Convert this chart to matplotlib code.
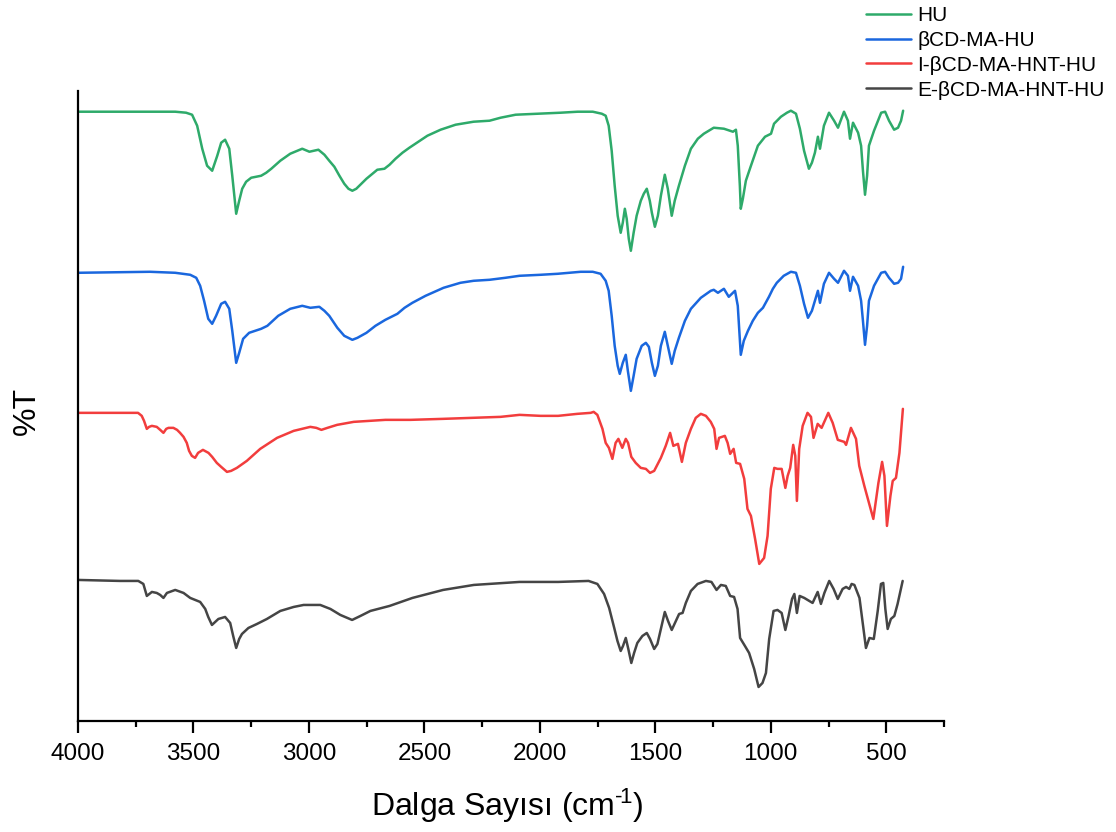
import matplotlib
matplotlib.use("Agg")
import matplotlib.pyplot as plt
from matplotlib.ticker import MultipleLocator

plt.rcParams['font.family'] = ['Liberation Sans', 'DejaVu Sans']
plt.rcParams['mathtext.fontset'] = 'custom'
plt.rcParams['mathtext.rm'] = 'Liberation Sans'
plt.rcParams['mathtext.it'] = 'Liberation Sans'

labels = ["HU", "βCD-MA-HU", "I-βCD-MA-HNT-HU", "E-βCD-MA-HNT-HU"]
colors = ["#2EAA6A", "#1A67DE", "#F23D3D", "#454545"]

# ---- HU (offset transmittance, arbitrary units) ----
hu_wn = [4000, 3688, 3579, 3532, 3506, 3484, 3462, 3441, 3419, 3397, 3380, 3363, 3345, 3332, 3315,
         3302, 3289, 3272, 3250, 3228, 3207, 3185, 3163, 3124, 3081, 3029, 2998, 2959, 2933, 2912,
         2890, 2868, 2847, 2829, 2812, 2795, 2773, 2751, 2730, 2704, 2673, 2651, 2625, 2595, 2565,
         2526, 2487, 2430, 2365, 2287, 2218, 2170, 2105, 2005, 1910, 1836, 1771, 1732, 1715, 1702,
         1689, 1676, 1663, 1650, 1641, 1632, 1624, 1615, 1606, 1594, 1581, 1563, 1550, 1537, 1524,
         1515, 1502, 1489, 1476, 1459, 1446, 1429, 1416, 1398, 1372, 1346, 1316, 1290, 1247, 1203,
         1164, 1151, 1143, 1134, 1130, 1121, 1108, 1086, 1056, 1025, 999, 986, 956, 930, 913,
         891, 874, 856, 835, 822, 809, 796, 787, 770, 748, 726, 709, 683, 666, 657,
         644, 622, 609, 601, 592, 583, 575, 553, 522, 505, 488, 466, 449, 436, 427]
hu_t = [609, 609, 609, 608, 606, 595, 572, 555, 550, 565, 578, 581, 572, 545, 507,
        520, 532, 539, 543, 544, 545, 548, 552, 560, 567, 572, 569, 571, 566, 560,
        554, 545, 537, 532, 530, 532, 537, 542, 546, 551, 552, 556, 562, 568, 573,
        579, 585, 591, 596, 599, 600, 603, 606, 607, 608, 609, 609, 607, 605, 595,
        570, 535, 505, 488, 498, 512, 502, 482, 470, 488, 505, 520, 527, 532, 520,
        508, 494, 505, 525, 546, 532, 505, 520, 535, 555, 572, 582, 587, 593, 592,
        589, 591, 575, 535, 512, 522, 540, 555, 575, 584, 587, 597, 604, 608, 610,
        607, 592, 570, 552, 558, 568, 584, 572, 595, 608, 600, 593, 609, 600, 582,
        598, 588, 575, 550, 526, 545, 575, 590, 608, 609, 600, 591, 593, 600, 610]

# ---- βCD-MA-HU ----
bcd_wn = [4000, 3688, 3579, 3514, 3488, 3471, 3454, 3436, 3419, 3402, 3380, 3363, 3345, 3332, 3315,
          3302, 3285, 3259, 3233, 3207, 3180, 3133, 3081, 3029, 2994, 2955, 2933, 2912, 2877, 2847,
          2812, 2790, 2751, 2712, 2669, 2643, 2617, 2586, 2552, 2495, 2417, 2344, 2287, 2218, 2149,
          2088, 1997, 1923, 1823, 1771, 1737, 1715, 1702, 1689, 1676, 1663, 1654, 1641, 1628, 1619,
          1606, 1594, 1581, 1559, 1541, 1528, 1515, 1502, 1489, 1476, 1459, 1446, 1429, 1416, 1398,
          1372, 1346, 1303, 1260, 1247, 1229, 1203, 1182, 1155, 1143, 1130, 1117, 1099, 1078, 1056,
          1034, 1008, 991, 974, 944, 913, 891, 874, 856, 839, 822, 809, 796, 787, 770,
          748, 726, 709, 683, 666, 657, 644, 622, 609, 601, 592, 583, 575, 553, 522,
          505, 488, 466, 449, 436, 427]
bcd_t = [448, 449, 448, 446, 443, 435, 420, 402, 397, 405, 417, 419, 412, 390, 358,
         368, 382, 388, 390, 392, 395, 405, 412, 415, 413, 414, 410, 405, 393, 385,
         381, 383, 388, 395, 401, 404, 407, 413, 418, 425, 433, 438, 440, 441, 443,
         445, 446, 447, 449, 449, 447, 440, 430, 405, 375, 355, 347, 358, 366, 350,
         330, 345, 362, 375, 378, 374, 358, 345, 355, 375, 389, 375, 357, 370, 383,
         400, 412, 423, 430, 431, 428, 432, 424, 430, 415, 366, 380, 390, 400, 408,
         413, 424, 432, 438, 445, 449, 448, 435, 417, 403, 410, 420, 430, 418, 437,
         448, 442, 438, 450, 445, 430, 444, 435, 420, 400, 376, 395, 420, 435, 448,
         449, 443, 437, 438, 442, 454]

# ---- I-βCD-MA-HNT-HU ----
ibcd_wn = [4000, 3818, 3740, 3724, 3714, 3702, 3692, 3680, 3659, 3644, 3630, 3618, 3608, 3587, 3571,
           3558, 3543, 3529, 3519, 3507, 3493, 3480, 3459, 3435, 3419, 3399, 3380, 3355, 3337, 3312,
           3269, 3211, 3138, 3066, 2994, 2968, 2946, 2920, 2878, 2806, 2734, 2669, 2560, 2419, 2300,
           2170, 2088, 1997, 1921, 1838, 1780, 1767, 1751, 1729, 1715, 1701, 1686, 1672, 1660, 1643,
           1628, 1618, 1604, 1585, 1563, 1541, 1523, 1505, 1476, 1455, 1436, 1422, 1402, 1385, 1368,
           1346, 1325, 1303, 1281, 1260, 1245, 1235, 1224, 1199, 1187, 1176, 1161, 1150, 1133, 1115,
           1101, 1086, 1068, 1050, 1029, 1014, 1000, 985, 971, 953, 937, 927, 916, 903, 894,
           887, 877, 862, 841, 826, 815, 797, 780, 751, 732, 710, 682, 674, 653, 631,
           617, 595, 576, 556, 534, 518, 508, 497, 482, 472, 458, 443, 428]
ibcd_t = [308, 308, 308, 305, 300, 292, 294, 295, 294, 291, 288, 292, 293, 293, 291,
          288, 284, 278, 270, 265, 263, 268, 271, 268, 264, 258, 254, 249, 250, 253,
          260, 272, 283, 290, 294, 293, 291, 293, 296, 299, 300, 301, 301, 302, 303,
          304, 306, 305, 305, 307, 308, 309, 306, 292, 278, 273, 262, 278, 282, 273,
          282, 278, 264, 258, 253, 252, 248, 250, 263, 275, 288, 275, 277, 259, 278,
          292, 303, 307, 305, 299, 292, 272, 283, 285, 278, 267, 272, 258, 257, 242,
          212, 205, 182, 157, 163, 185, 232, 253, 252, 252, 233, 245, 253, 276, 265,
          220, 272, 295, 308, 304, 283, 297, 293, 308, 298, 281, 279, 276, 293, 282,
          255, 235, 219, 202, 238, 259, 245, 195, 225, 240, 243, 268, 312]

# ---- E-βCD-MA-HNT-HU ----
ebcd_wn = [4000, 3818, 3739, 3717, 3702, 3680, 3659, 3644, 3630, 3615, 3579, 3543, 3514, 3471, 3449,
           3436, 3420, 3392, 3363, 3341, 3328, 3315, 3302, 3290, 3262, 3225, 3182, 3124, 3066, 3023,
           2951, 2907, 2864, 2813, 2777, 2734, 2651, 2552, 2419, 2286, 2088, 1921, 1789, 1751, 1722,
           1700, 1678, 1664, 1650, 1640, 1628, 1617, 1604, 1592, 1578, 1556, 1537, 1523, 1505, 1491,
           1476, 1459, 1445, 1429, 1411, 1397, 1382, 1368, 1346, 1317, 1281, 1257, 1235, 1216, 1195,
           1176, 1159, 1144, 1133, 1112, 1094, 1072, 1053, 1036, 1021, 1007, 988, 971, 953, 937,
           923, 908, 898, 887, 875, 855, 819, 797, 783, 768, 747, 728, 710, 689, 674,
           660, 650, 638, 616, 602, 588, 573, 554, 537, 523, 513, 504, 494, 480, 465,
           451, 429]
ebcd_t = [141, 140, 140, 137, 125, 129, 128, 126, 123, 128, 131, 128, 123, 119, 112,
          104, 96, 102, 104, 98, 85, 73, 82, 87, 93, 97, 102, 110, 114, 116,
          116, 112, 106, 101, 105, 110, 115, 123, 131, 136, 139, 139, 140, 137, 127,
          113, 93, 80, 70, 75, 83, 72, 58, 68, 78, 85, 88, 82, 72, 77,
          92, 109, 100, 91, 100, 107, 108, 118, 130, 137, 140, 139, 131, 136, 135,
          125, 124, 112, 83, 75, 68, 52, 34, 38, 48, 82, 110, 111, 108, 91,
          105, 122, 127, 108, 125, 123, 118, 129, 117, 128, 140, 132, 122, 132, 134,
          132, 137, 136, 123, 98, 73, 83, 82, 110, 137, 138, 112, 92, 102, 105,
          117, 140]

series_wn = [hu_wn, bcd_wn, ibcd_wn, ebcd_wn]
series_t = [hu_t, bcd_t, ibcd_t, ebcd_t]

fig = plt.figure(figsize=(11.16, 8.32), dpi=100)
ax = fig.add_axes([78 / 1116, 1 - 721 / 832, (944 - 78) / 1116, (721 - 90.7) / 832])

for wn, t, lab, c in zip(series_wn, series_t, labels, colors):
    ax.plot(wn, t, color=c, lw=1.8, label=lab, solid_joinstyle='round', solid_capstyle='round')

ax.set_xlim(4000, 250)
ax.set_ylim(0, 630)
ax.xaxis.set_major_locator(MultipleLocator(500))
ax.xaxis.set_minor_locator(MultipleLocator(250))
ax.set_xticks([4000, 3500, 3000, 2500, 2000, 1500, 1000, 500])
ax.set_yticks([])
for s in ['top', 'right']:
    ax.spines[s].set_visible(False)
for s in ['left', 'bottom']:
    ax.spines[s].set_linewidth(1.6)
ax.tick_params(axis='x', which='major', direction='out', length=8.5, width=1.6,
               labelsize=17.5, pad=7)
ax.tick_params(axis='x', which='minor', direction='out', length=4.3, width=1.6)

fig.text(507 / 1116, 1 - 806 / 832, 'Dalga Sayısı (cm$^{\u2010\\!1}$)', ha='center', va='center',
         fontsize=23)
fig.text(27 / 1116, 1 - 411 / 832, '%T', ha='center', va='center', rotation=90, fontsize=23)

leg = fig.legend(loc='upper left', bbox_to_anchor=(866 / 1116, 1 - 6 / 832), frameon=False,
                 fontsize=15, handlelength=2.15, handletextpad=0.3, labelspacing=0.28,
                 borderpad=0, borderaxespad=0)
for l in leg.get_lines():
    l.set_linewidth(1.8)

fig.savefig('out.png', dpi=100)
